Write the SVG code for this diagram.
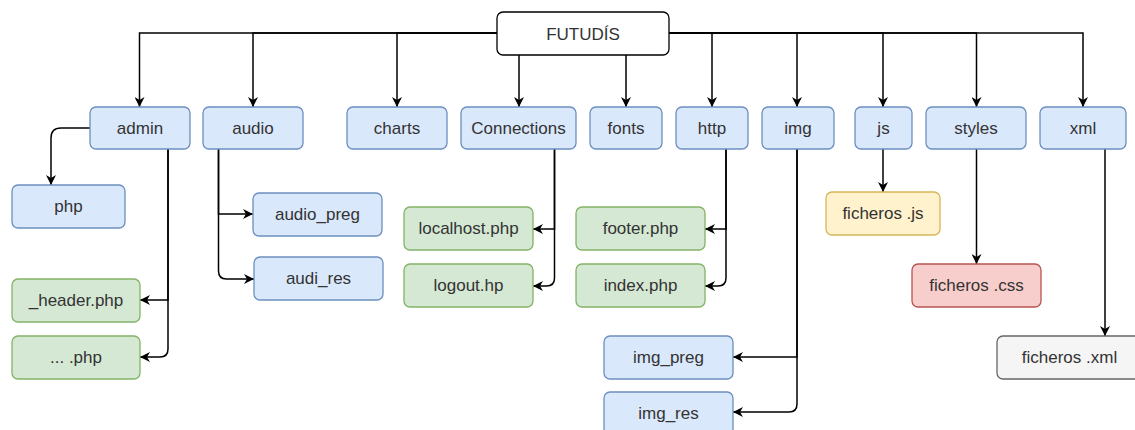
<svg xmlns="http://www.w3.org/2000/svg" width="1135" height="430" viewBox="0 0 1135 430">
<defs>
<marker id="arr" viewBox="0 0 10 10" refX="10" refY="5" markerWidth="10" markerHeight="10" markerUnits="userSpaceOnUse" orient="auto">
<path d="M0,0 L10,5 L0,10 L3,5 z" fill="#000"/>
</marker>
</defs>
<style>
rect{stroke-width:1.3}
.b{fill:#dae8fc;stroke:#6c8ebf}
.g{fill:#d5e8d4;stroke:#82b366}
.y{fill:#fff2cc;stroke:#d6b656}
.r{fill:#f8cecc;stroke:#b85450}
.s{fill:#f5f5f5;stroke:#666666}
.w{fill:#ffffff;stroke:#000000}
text{font-family:"Liberation Sans",Arial,sans-serif;font-size:17px;fill:#333333;text-anchor:middle;dominant-baseline:central}
.c path{fill:none;stroke:#000;stroke-width:1.5;marker-end:url(#arr)}
</style>
<rect width="1135" height="430" fill="#ffffff"/>
<g class="c" id="connectors">
<path d="M497,33 H139.5 V107"/>
<path d="M497,33 H253 V107"/>
<path d="M497,33 H397 V107"/>
<path d="M519,55 V107"/>
<path d="M626,55 V107"/>
<path d="M669,33 H712 V107"/>
<path d="M669,33 H797 V107"/>
<path d="M669,33 H883 V107"/>
<path d="M669,33 H976.5 V107"/>
<path d="M669,33 H1083 V107"/>
<path d="M90,128 H61 Q51,128 51,138 V185"/>
<path d="M168,149 V300 H140"/>
<path d="M168,149 V349 Q168,357 160,357 H140"/>
<path d="M218.5,149 V214 H253"/>
<path d="M218.5,149 V271 Q218.5,279 226.5,279 H254"/>
<path d="M554.5,149 V229 H533"/>
<path d="M554.5,149 V278 Q554.5,286 546.5,286 H533"/>
<path d="M726,149 V229 H705"/>
<path d="M726,149 V278 Q726,286 718,286 H705"/>
<path d="M797,149 V357 H733"/>
<path d="M797,149 V404 Q797,412 789,412 H733"/>
<path d="M883,149 V192"/>
<path d="M976.5,149 V264"/>
<path d="M1105,149 V336"/>
</g>
<g id="root"><rect class="w" x="497" y="12" width="172" height="43" rx="6"/><text x="583" y="34">FUTUDÍS</text></g>
<g id="admin"><rect class="b" x="90" y="107" width="100" height="42" rx="6"/><text x="140" y="128">admin</text></g>
<g id="audio"><rect class="b" x="203" y="107" width="100" height="42" rx="6"/><text x="253" y="128">audio</text></g>
<g id="charts"><rect class="b" x="347" y="107" width="100" height="42" rx="6"/><text x="397" y="128">charts</text></g>
<g id="connections"><rect class="b" x="461" y="107" width="115" height="42" rx="6"/><text x="518.5" y="128">Connections</text></g>
<g id="fonts"><rect class="b" x="590" y="107" width="72" height="42" rx="6"/><text x="626" y="128">fonts</text></g>
<g id="http"><rect class="b" x="676" y="107" width="72" height="42" rx="6"/><text x="712" y="128">http</text></g>
<g id="img"><rect class="b" x="762" y="107" width="72" height="42" rx="6"/><text x="798" y="128">img</text></g>
<g id="js"><rect class="b" x="855" y="107" width="57" height="42" rx="6"/><text x="883.5" y="128">js</text></g>
<g id="styles"><rect class="b" x="926" y="107" width="100" height="42" rx="6"/><text x="976" y="128">styles</text></g>
<g id="xml"><rect class="b" x="1040" y="107" width="86" height="42" rx="6"/><text x="1083" y="128">xml</text></g>
<g id="php"><rect class="b" x="12" y="185" width="113" height="43" rx="6"/><text x="68.5" y="206.5">php</text></g>
<g id="header"><rect class="g" x="12" y="279" width="128" height="43" rx="6"/><text x="76" y="300.5">_header.php</text></g>
<g id="dotsphp"><rect class="g" x="12" y="336" width="128" height="43" rx="6"/><text x="76" y="357.5">... .php</text></g>
<g id="audio_preg"><rect class="b" x="253" y="193" width="129" height="43" rx="6"/><text x="317.5" y="214.5">audio_preg</text></g>
<g id="audi_res"><rect class="b" x="254" y="257" width="129" height="43" rx="6"/><text x="318.5" y="278.5">audi_res</text></g>
<g id="localhost"><rect class="g" x="404" y="207" width="129" height="43" rx="6"/><text x="468.5" y="228.5">localhost.php</text></g>
<g id="logout"><rect class="g" x="404" y="264" width="129" height="43" rx="6"/><text x="468.5" y="285.5">logout.hp</text></g>
<g id="footer"><rect class="g" x="576" y="207" width="129" height="43" rx="6"/><text x="640.5" y="228.5">footer.php</text></g>
<g id="index"><rect class="g" x="576" y="264" width="129" height="43" rx="6"/><text x="640.5" y="285.5">index.php</text></g>
<g id="img_preg"><rect class="b" x="604" y="336" width="129" height="43" rx="6"/><text x="668.5" y="357.5">img_preg</text></g>
<g id="img_res"><rect class="b" x="604" y="392" width="129" height="43" rx="6"/><text x="668.5" y="413">img_res</text></g>
<g id="fjs"><rect class="y" x="826" y="192" width="114" height="43" rx="6"/><text x="883" y="213.5">ficheros .js</text></g>
<g id="fcss"><rect class="r" x="912" y="264" width="129" height="43" rx="6"/><text x="976.5" y="285.5">ficheros .css</text></g>
<g id="fxml"><rect class="s" x="997" y="336" width="145" height="43" rx="6"/><text x="1069.5" y="357.5">ficheros .xml</text></g>
</svg>
